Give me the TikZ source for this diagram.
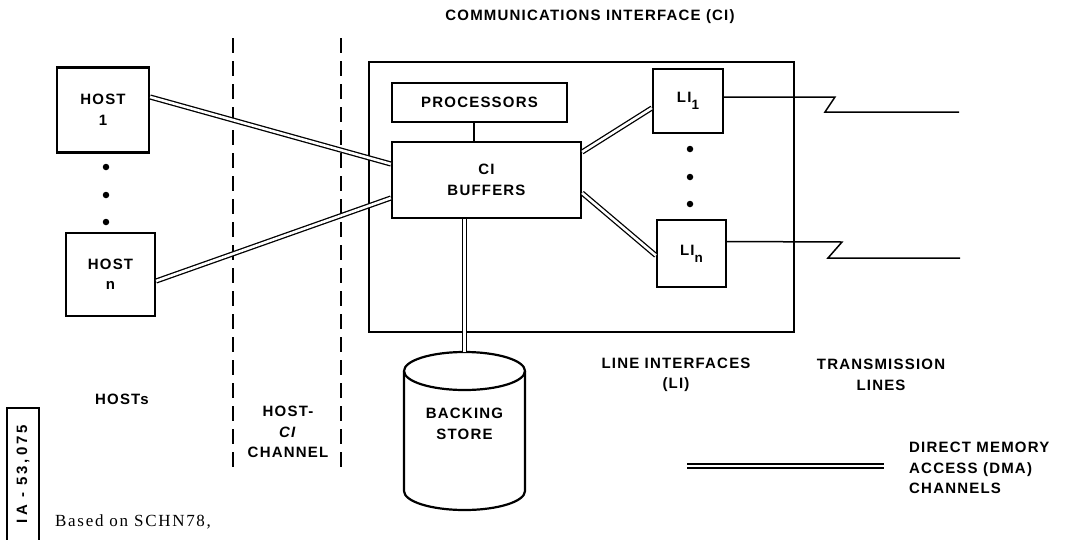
\documentclass[tikz,border=0pt]{standalone}
\usepackage{fontspec}
\setmainfont{Liberation Sans}[LetterSpace=8]
\newfontfamily\notefont{Liberation Serif}[LetterSpace=10]
\newfontfamily\tagfont{Liberation Sans}[LetterSpace=20]

\tikzset{
  lbl/.style={font=\fontsize{15}{20.5}\selectfont\bfseries, align=center, inner sep=0},
  unitbox/.style={draw, line width=2.2pt, inner sep=0, lbl},
  dma/.style={double, line width=1.3pt, double distance=2.6pt},
  wire/.style={line width=1.5pt},
  divider/.style={line width=1.7pt, dash pattern=on 15pt off 8pt},
  dotmark/.style={circle, fill, inner sep=0, minimum size=6.5pt},
}

\newcommand{\lisub}[1]{LI\raisebox{-7pt}{\fontsize{13.5}{13.5}\selectfont #1}}

\begin{document}
\begin{tikzpicture}[x=1pt, y=-1pt]
  \useasboundingbox (0,0) rectangle (1066,539);

  % section dividers
  \draw[divider] (233,38) -- (233,473);
  \draw[divider] (341,38) -- (341,473);

  % communications interface enclosure
  \draw[line width=1.4pt] (369,62) rectangle (794,332);

  % hosts
  \node[unitbox, minimum width=92pt, minimum height=85pt] (h1) at (103,110) {HOST\\1};
  \node[unitbox, minimum width=89pt, minimum height=83pt] (hn) at (110.5,274.5) {HOST\\n};
  \node[dotmark] (hd1) at (106,167) {};
  \node[dotmark] (hd2) at (106,195) {};
  \node[dotmark] (hd3) at (106,222) {};

  % CI internals
  \node[unitbox, minimum width=175pt, minimum height=39pt] (proc) at (479.5,102.5) {PROCESSORS};
  \node[unitbox, minimum width=189pt, minimum height=76pt] (buf) at (486.5,180) {CI\\BUFFERS};
  \draw[wire] (proc.south -| 474,0) -- (buf.north -| 474,0);

  % line interfaces
  \node[unitbox, minimum width=70pt, minimum height=64pt] (li1) at (688,101) {\lisub{1}};
  \node[unitbox, minimum width=69pt, minimum height=67pt] (lin) at (691.5,253.5) {\lisub{n}};
  \node[dotmark] (ld1) at (690,149) {};
  \node[dotmark] (ld2) at (690,177) {};
  \node[dotmark] (ld3) at (690,204) {};

  % backing store (cylinder)
  \coordinate (bstop) at (464.5,352);
  \draw[line width=2.2pt] (464.5,371) ellipse [x radius=60.5pt, y radius=19pt];
  \draw[line width=2.2pt] (404,371) -- (404,491)
        arc[start angle=180, end angle=360, x radius=60.5pt, y radius=19pt] -- (525,371);
  \node[lbl] (bs) at (464.5,424) {BACKING\\STORE};

  % DMA channels
  \draw[dma] ([yshift=13pt]h1.east) -- ([yshift=16pt]buf.west);
  \draw[dma] ([yshift=-6.5pt]hn.east) -- ([yshift=-18pt]buf.west);
  \draw[dma] ([yshift=28pt]buf.east) -- ([yshift=-7pt]li1.west);
  \draw[dma] ([yshift=-13pt]buf.east) -- ([yshift=-2pt]lin.west);
  \draw[dma] (bstop) -- (bstop |- buf.south);

  % transmission lines
  \coordinate (tl1) at (959,112);
  \coordinate (tln) at (960,258);
  \draw[wire] ([yshift=4pt]li1.east) -- (835,97) -- (825,112) -- (tl1);
  \draw[wire] ([yshift=12pt]lin.east) -- (842,242) -- (828,258) -- (tln);

  % legend
  \coordinate (lga) at (687,466);
  \coordinate (lgb) at (884,466);
  \draw[dma] (lga) -- (lgb);
  \node[lbl, align=left, anchor=west] (lgt) at (909,468) {DIRECT MEMORY\\ACCESS (DMA)\\CHANNELS};

  % captions
  \node[lbl] (title) at (590,17) {COMMUNICATIONS INTERFACE (CI)};
  \node[lbl] (hosts) at (122,399) {HOSTs};
  \node[lbl] (chan) at (288,432) {HOST-\\\textit{CI}\\CHANNEL};
  \node[lbl] (lis) at (676,375) {LINE INTERFACES\\(LI)};
  \node[lbl] (tls) at (881,375) {TRANSMISSION\\LINES};

  % reference tag and note
  \draw[line width=1.7pt] (7,545) -- (7,408) -- (39,408) -- (39,545);
  \node[rotate=90, inner sep=0, font=\tagfont\fontsize{15}{15}\selectfont\bfseries] (tag) at (23,474) {IA - 53,075};
  \node[anchor=base west, inner sep=0, font=\notefont\fontsize{17}{17}\selectfont] (note) at (55,526) {Based on SCHN78,};
\end{tikzpicture}
\end{document}
